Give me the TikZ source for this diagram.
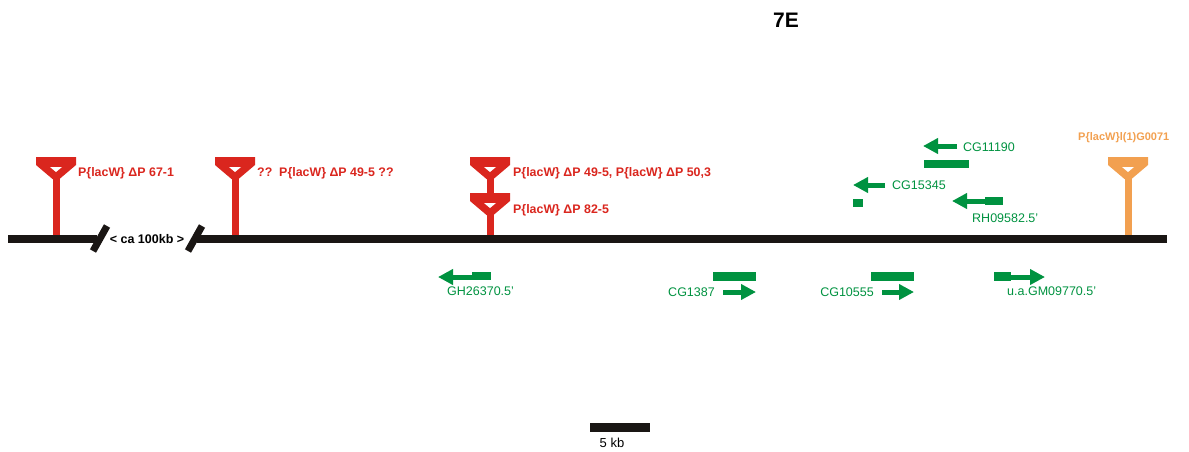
\documentclass[tikz,border=0pt]{standalone}
\usepackage{fontspec}
\setmainfont{Liberation Sans}
\usetikzlibrary{arrows.meta}

\definecolor{insred}{RGB}{218,38,30}
\definecolor{insorange}{RGB}{242,160,80}
\definecolor{genegreen}{RGB}{0,146,64}
\definecolor{chrom}{RGB}{26,22,20}

\tikzset{
  chromosome/.style={line width=8pt, draw=chrom},
  breakmark/.style={line width=7pt, draw=chrom},
  inslabel/.style={anchor=west, inner sep=0pt, font=\fontsize{12.4}{14}\selectfont\bfseries},
  genelabel/.style={anchor=west, inner sep=0pt, text=genegreen, font=\fontsize{12.5}{14}\selectfont},
  gene/.style={line width=5pt, draw=genegreen, -{Triangle[length=15pt,width=15pt]}},
  genebar/.style={fill=genegreen}
}

\begin{document}
\begin{tikzpicture}[x=1pt, y=-1pt]
\useasboundingbox (0,0) rectangle (1189,451);

\node[font=\fontsize{21}{24}\selectfont\bfseries, inner sep=0pt] (title) at (786,20) {7E};

% chromosome with the gap
\coordinate (c0) at (8,239);
\coordinate (c1) at (97,239);
\coordinate (c2) at (197,239);
\coordinate (c3) at (1167,239);
\draw[chromosome] (c0) -- (c1);
\draw[chromosome] (c2) -- (c3);
\draw[breakmark] (93,251) -- (107,226);
\draw[breakmark] (188,251) -- (202,226);
\node[inner sep=0pt, font=\fontsize{12.5}{14}\selectfont\bfseries] (gap) at (147,239) {< ca 100kb >};

% insertions: stem x / top y / colour
\foreach \x/\t/\c in {56/157/insred, 235/157/insred, 490/157/insred, 490/193/insred, 1128/157/insorange} {
  \fill[\c] (\x-3.5,\t+18) rectangle (\x+3.5,235);
  \fill[\c] (\x-20,\t) -- (\x+20,\t) -- (\x+20,\t+8) -- (\x+3.5,\t+22)
    -- (\x-3.5,\t+22) -- (\x-20,\t+8) -- cycle;
  \fill[white] (\x-6,\t+10) -- (\x+6,\t+10) -- (\x,\t+15) -- cycle;
}

\node[inslabel, text=insred] (ins1) at (78,173) {P\{lacW\} ΔP 67-1};
\node[inslabel, text=insred] (ins2) at (257,173) {??~~P\{lacW\} ΔP 49-5 ??};
\node[inslabel, text=insred] (ins3) at (513,173) {P\{lacW\} ΔP 49-5, P\{lacW\} ΔP 50,3};
\node[inslabel, text=insred] (ins4) at (513,210) {P\{lacW\} ΔP 82-5};
\node[inslabel, text=insorange, font=\fontsize{11}{13}\selectfont\bfseries] (ins5) at (1078,138) {P\{lacW\}l(1)G0071};

% genes above the line
\coordinate (cg11190a) at (957,146);
\coordinate (cg11190b) at (923,146);
\draw[gene] (cg11190a) -- (cg11190b);
\fill[genebar] (924,160) rectangle (969,168);
\node[genelabel] (cg11190) at (963,147) {CG11190};

\coordinate (cg15345a) at (885,185);
\coordinate (cg15345b) at (853,185);
\draw[gene] (cg15345a) -- (cg15345b);
\fill[genebar] (853,199) rectangle (863,207);
\node[genelabel] (cg15345) at (892,185) {CG15345};

\coordinate (rh09582a) at (985,201);
\coordinate (rh09582b) at (952,201);
\draw[gene] (rh09582a) -- (rh09582b);
\fill[genebar] (985,197) rectangle (1003,205);
\node[genelabel] (rh09582) at (972,218) {RH09582.5'};

% genes below the line
\coordinate (gh26370a) at (472,277);
\coordinate (gh26370b) at (438,277);
\draw[gene] (gh26370a) -- (gh26370b);
\fill[genebar] (472,272) rectangle (491,280);
\node[genelabel] (gh26370) at (447,291) {GH26370.5'};

\fill[genebar] (713,272) rectangle (756,281);
\coordinate (cg1387a) at (723,292);
\coordinate (cg1387b) at (756,292);
\draw[gene] (cg1387a) -- (cg1387b);
\node[genelabel, anchor=east] (cg1387) at (715,292) {CG1387};

\fill[genebar] (871,272) rectangle (914,281);
\coordinate (cg10555a) at (882,292);
\coordinate (cg10555b) at (914,292);
\draw[gene] (cg10555a) -- (cg10555b);
\node[genelabel, anchor=east] (cg10555) at (874,292) {CG10555};

\fill[genebar] (994,272) rectangle (1011,281);
\coordinate (gm09770a) at (1011,277);
\coordinate (gm09770b) at (1045,277);
\draw[gene] (gm09770a) -- (gm09770b);
\node[genelabel] (gm09770) at (1007,291) {u.a.GM09770.5'};

% scale bar
\fill[chrom] (590,423) rectangle (650,432);
\node[inner sep=0pt, font=\fontsize{13}{15}\selectfont] (scale) at (612,443) {5 kb};
\end{tikzpicture}
\end{document}
